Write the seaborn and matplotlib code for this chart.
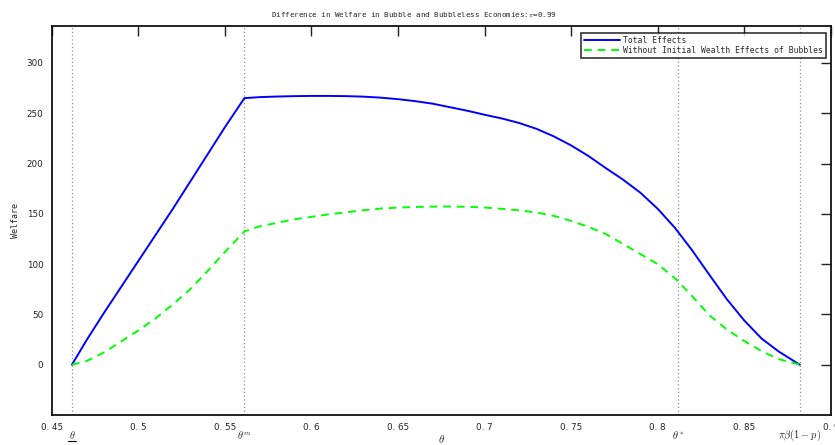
import numpy as np
import pandas as pd
import matplotlib
matplotlib.use("Agg")
import matplotlib.pyplot as plt
import matplotlib.transforms as mtransforms
import seaborn as sns

# ---- data ----
theta_total = [0.4617, 0.47, 0.48, 0.49, 0.50, 0.51, 0.52, 0.53, 0.54, 0.55, 0.5613,
               0.57, 0.58, 0.59, 0.60, 0.61, 0.62, 0.63, 0.64, 0.65, 0.66, 0.67,
               0.68, 0.69, 0.70, 0.71, 0.72, 0.73, 0.74, 0.75, 0.76, 0.77, 0.78,
               0.79, 0.80, 0.81, 0.82, 0.83, 0.84, 0.85, 0.86, 0.87, 0.8821]
welfare_total = [0, 24, 51, 77, 103, 129, 155, 182, 209, 236, 265,
                 266, 266.6, 267, 267.2, 267.2, 267, 266.5, 265.5, 264, 262, 259.5,
                 256, 252.5, 248.5, 244.8, 240.3, 234.5, 227, 218, 207.5, 195.5, 184,
                 171, 155, 136, 113.5, 89, 65, 44, 26, 13, 0]

theta_noinit = [0.4617, 0.47, 0.48, 0.49, 0.50, 0.51, 0.52, 0.53, 0.54, 0.55, 0.5613,
                0.57, 0.58, 0.59, 0.60, 0.61, 0.62, 0.63, 0.64, 0.65, 0.66, 0.67,
                0.68, 0.69, 0.70, 0.71, 0.72, 0.73, 0.74, 0.75, 0.76, 0.77, 0.78,
                0.79, 0.80, 0.81, 0.82, 0.83, 0.84, 0.85, 0.86, 0.87, 0.8821]
welfare_noinit = [0, 3.5, 12, 23, 34, 46, 60, 75, 93, 112, 132.5,
                  137.5, 141, 144.5, 147, 149.5, 151.5, 153.5, 155.3, 156.2, 156.8, 157.2,
                  157.3, 157, 156.3, 155, 153.5, 151.3, 148, 143, 137, 130, 120,
                  110, 100, 86, 68, 49, 35, 23.5, 13.5, 5.5, 0]

series_names = ["Total Effects", "Without Initial Wealth Effects of Bubbles"]
vline_pos = [0.4617, 0.5613, 0.8118, 0.8821]
vline_labels = [r"$\theta$", r"$\theta^m$", r"$\theta^*$", r"$\pi\beta(1-p)$"]
xticks = [0.45, 0.5, 0.55, 0.6, 0.65, 0.7, 0.75, 0.8, 0.85, 0.9]
yticks = [0, 50, 100, 150, 200, 250, 300]
title = "Difference in Welfare in Bubble and Bubbleless Economies:$\\pi$=0.99"

sns.set_style("white")
plt.rcParams['font.family'] = ['DejaVu Sans']
plt.rcParams['mathtext.fontset'] = 'cm'

df = pd.concat([
    pd.DataFrame({"theta": theta_total, "welfare": welfare_total, "series": series_names[0]}),
    pd.DataFrame({"theta": theta_noinit, "welfare": welfare_noinit, "series": series_names[1]}),
])

fig = plt.figure(figsize=(8.35, 4.45), dpi=100)
ax = fig.add_axes([0.0619, 0.0674, 0.995 - 0.0619, 0.9422 - 0.0674])

for xv in vline_pos:
    ax.axvline(xv, color="#8c8c8c", linestyle=(0, (1, 2)), linewidth=0.9, zorder=1)

sns.lineplot(data=df[df.series == series_names[0]], x="theta", y="welfare",
             color="#0000ff", linewidth=1.4, ax=ax, label=series_names[0],
             estimator=None, sort=False)
sns.lineplot(data=df[df.series == series_names[1]], x="theta", y="welfare",
             color="#00ff00", linewidth=1.4, linestyle=(0, (4, 3)), ax=ax,
             label=series_names[1], estimator=None, sort=False)

ax.set_xlim(0.45, 0.9)
ax.set_ylim(-50, 337)
ax.set_xticks(xticks)
ax.set_xticklabels([f"{t:g}".replace(".", ". ") for t in xticks])
ax.set_yticks(yticks)
ax.tick_params(direction="in", length=7, width=1, top=True, right=True,
               labelsize=6.3, colors="#222222", pad=6)
for s in ax.spines.values():
    s.set_linewidth(1.3)
    s.set_color("#111111")

ax.set_xlabel(r"$\theta$", fontsize=8, va="center")
ax.xaxis.set_label_coords(0.5, -0.0615)
ax.set_ylabel("Welfare", family="DejaVu Sans Mono", fontsize=6, labelpad=5)
fig.text(413.5 / 835, 1 - 15 / 445, title, family="DejaVu Sans Mono", fontsize=5.4,
         ha="center", va="center")

trans = mtransforms.blended_transform_factory(ax.transData, ax.transAxes)
for xv, lab in zip(vline_pos, vline_labels):
    ax.text(xv, -0.052, lab, transform=trans, ha="center", va="center", fontsize=7.5)
# underline for the lower-bound theta label
ax.plot([vline_pos[0] - 0.0025, vline_pos[0] + 0.0025], [-0.067, -0.067],
        transform=trans, color="black", linewidth=0.8, clip_on=False)

leg = ax.legend(loc="upper right", frameon=True, fancybox=False,
                prop={"family": "DejaVu Sans Mono", "size": 5.8},
                borderpad=0.35, handlelength=4.5, labelspacing=0.2,
                handletextpad=0.4, borderaxespad=0,
                bbox_to_anchor=(0.9936, 0.982))
leg.get_frame().set_edgecolor("black")
leg.get_frame().set_linewidth(1.2)

fig.savefig("out.png", dpi=100)
